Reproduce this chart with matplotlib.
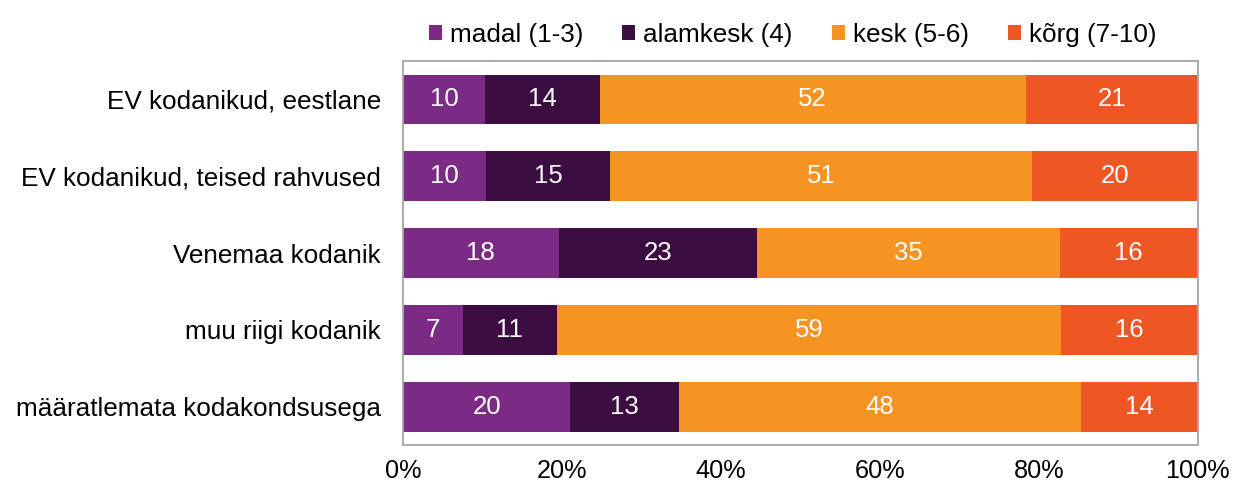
import numpy as np
import matplotlib.pyplot as plt
from matplotlib.ticker import PercentFormatter

plt.rcParams['font.family'] = ['Liberation Sans', 'DejaVu Sans']

groups = ['EV kodanikud, eestlane', 'EV kodanikud, teised rahvused',
          'Venemaa kodanik', 'muu riigi kodanik', 'määratlemata kodakondsusega']
series = ['madal (1-3)', 'alamkesk (4)', 'kesk (5-6)', 'kõrg (7-10)']
madal = [10, 10, 18, 7, 20]
alamkesk = [14, 15, 23, 11, 13]
kesk = [52, 51, 35, 59, 48]
korg = [21, 20, 16, 16, 14]
colors = ['#7B2B84', '#3C0D40', '#F59422', '#EE5624']

vals = np.array([madal, alamkesk, kesk, korg], dtype=float)
share = vals / vals.sum(axis=0) * 100

fig = plt.figure(figsize=(12.34, 4.86), dpi=100)
ax = fig.add_axes([0.3266, 0.0843, 0.644, 0.79])

y = np.arange(len(groups))
left = np.zeros(len(groups))
for k in range(len(series)):
    ax.barh(y, share[k], left=left, height=0.65, color=colors[k],
            label=series[k], linewidth=0)
    for i in range(len(groups)):
        ax.text(left[i] + share[k][i] / 2, y[i], '%d' % vals[k][i],
                ha='center', va='center', color='white', fontsize=18.5)
    left += share[k]

ax.set_xlim(0, 100)
ax.set_ylim(4.5, -0.5)
ax.set_yticks(y)
ax.set_yticklabels(groups, fontsize=18.8)
ax.set_xticks(np.arange(0, 101, 20))
ax.xaxis.set_major_formatter(PercentFormatter(decimals=0))
ax.tick_params(axis='x', labelsize=18.2, length=0, pad=10)
ax.tick_params(axis='y', length=0, pad=16)
for s in ax.spines.values():
    s.set_color('#A6A6A6')
    s.set_linewidth(1.3)

ax.legend(loc='lower center', bbox_to_anchor=(0.49, 1.01), ncol=4, frameon=False,
          fontsize=18.8, handlelength=0.5, handleheight=0.5, handletextpad=0.3,
          columnspacing=1.5, borderaxespad=0)

fig.savefig('out.png', dpi=100)
